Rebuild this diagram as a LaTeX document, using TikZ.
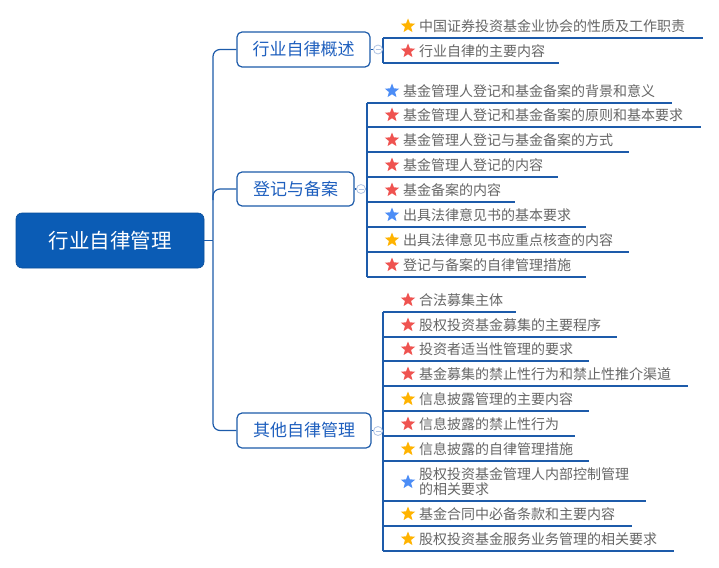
\documentclass[tikz,border=0pt]{standalone}
\usepackage{fontspec}
\newfontfamily\cjk{Noto Sans CJK SC}
\usetikzlibrary{shapes.geometric,calc}
\definecolor{lineblue}{HTML}{1D5BAA}
\definecolor{rootblue}{HTML}{0B5CB5}
\definecolor{branchtext}{HTML}{1E5FBE}
\definecolor{leafgrey}{HTML}{666666}
\definecolor{starred}{HTML}{EF5350}
\definecolor{staryellow}{HTML}{FFB300}
\definecolor{starblue}{HTML}{4C8DF6}
\definecolor{togglegrey}{HTML}{AFC3E3}
\tikzset{
  conn/.style={draw=lineblue, line width=1.2pt},
  uline/.style={draw=lineblue, line width=1.2pt},
  rootbox/.style={rectangle, rounded corners=6pt, fill=rootblue, draw=rootblue!85!black, line width=0.6pt,
    minimum width=188pt, minimum height=55pt, text=white, font=\cjk\fontsize{20.5}{22}\selectfont},
  branchbox/.style={rectangle, rounded corners=5pt, fill=white, draw=lineblue, line width=1.2pt,
    minimum height=35pt, inner sep=0pt, text=branchtext, font=\cjk\fontsize{17}{19}\selectfont},
  starnode/.style={star, star points=5, star point ratio=2.3, minimum size=15pt, inner sep=0pt, draw=none},
  leaftext/.style={inner sep=0pt, text=leafgrey, font=\cjk\fontsize{14}{15}\selectfont, align=left},
  toggle/.style={circle, draw=togglegrey, fill=white, line width=0.8pt, minimum size=9pt, inner sep=0pt},
}
\newcommand\leafitem[6]{%
  \coordinate (#1-l) at (#2,#3);
  \coordinate (#1-r) at (#4,#3);
  \draw[uline] (#1-l) -- (#1-r);
  \node[starnode, fill=#5] (#1-s) at ($(#1-l)+(25,-12)$) {};
  \node[leaftext, anchor=west] (#1) at ($(#1-l)+(36,-12)$) {#6};
}
\newcommand\togglemark[2]{%
  \node[toggle] (#1) at #2 {};
  \draw[togglegrey, line width=0.8pt] ($(#1.center)+(-2.5,0)$) -- ($(#1.center)+(2.5,0)$);
}
\begin{document}
\begin{tikzpicture}[x=1pt,y=-1pt]
\useasboundingbox (0,0) rectangle (719,567);
\fill[white] (0,0) rectangle (719,567);

% root
\node[rootbox] (root) at (110,240.5) {行业自律管理};
% branches
\node[branchbox, minimum width=133pt] (b1) at (303.5,49.5) {行业自律概述};
\node[branchbox, minimum width=117pt, minimum height=34pt] (b2) at (295.5,189) {登记与备案};
\node[branchbox, minimum width=134pt] (b3) at (304,430.5) {其他自律管理};

% trunk
\coordinate (trunk) at (213,240.5);
\draw[conn] (root.east) -- (trunk);
\draw[conn, rounded corners=7pt] (trunk) |- (b1.west);
\draw[conn, rounded corners=7pt] (trunk) |- (b3.west);
\draw[conn, rounded corners=7pt] (213,200) |- (b2.west);

% branch 1 leaves
\leafitem{a1}{383}{38}{703}{staryellow}{中国证券投资基金业协会的性质及工作职责}
\leafitem{a2}{383}{63}{559}{starred}{行业自律的主要内容}
\draw[conn] (a1-l) -- (a2-l);
\draw[conn] (b1.east) -- (b1.east -| a1-l);
\togglemark{t1}{(378,49.5)}

% branch 2 leaves
\leafitem{c1}{367}{103}{672}{starblue}{基金管理人登记和基金备案的背景和意义}
\leafitem{c2}{367}{127}{701}{starred}{基金管理人登记和基金备案的原则和基本要求}
\leafitem{c3}{367}{152}{629}{starred}{基金管理人登记与基金备案的方式}
\leafitem{c4}{367}{177}{558}{starred}{基金管理人登记的内容}
\leafitem{c5}{367}{202}{515}{starred}{基金备案的内容}
\leafitem{c6}{367}{227}{586}{starblue}{出具法律意见书的基本要求}
\leafitem{c7}{367}{252}{629}{staryellow}{出具法律意见书应重点核查的内容}
\leafitem{c8}{367}{277}{586}{starred}{登记与备案的自律管理措施}
\draw[conn] (c1-l) -- (c8-l);
\draw[conn] (b2.east) -- (b2.east -| c1-l);
\togglemark{t2}{(361,189)}

% branch 3 leaves
\leafitem{d1}{383}{312}{516}{starred}{合法募集主体}
\leafitem{d2}{383}{337}{617}{starred}{股权投资基金募集的主要程序}
\leafitem{d3}{383}{361}{589}{starred}{投资者适当性管理的要求}
\leafitem{d4}{383}{386}{688}{starred}{基金募集的禁止性行为和禁止性推介渠道}
\leafitem{d5}{383}{411}{589}{staryellow}{信息披露管理的主要内容}
\leafitem{d6}{383}{436}{575}{starred}{信息披露的禁止性行为}
\leafitem{d7}{383}{461}{589}{staryellow}{信息披露的自律管理措施}
% two-line leaf
\coordinate (d8-l) at (383,501);
\coordinate (d8-r) at (646,501);
\draw[uline] (d8-l) -- (d8-r);
\node[starnode, fill=starblue] (d8-s) at ($(d8-l)+(25,-19)$) {};
\node[leaftext, anchor=west] (d8) at ($(d8-l)+(36,-19)$) {股权投资基金管理人内部控制管理\\的相关要求};
\leafitem{d9}{383}{526}{632}{staryellow}{基金合同中必备条款和主要内容}
\leafitem{d10}{383}{551}{674}{staryellow}{股权投资基金服务业务管理的相关要求}
\draw[conn] (d1-l) -- (d10-l);
\draw[conn] (b3.east) -- (b3.east -| d1-l);
\togglemark{t3}{(378,431)}
\end{tikzpicture}
\end{document}
